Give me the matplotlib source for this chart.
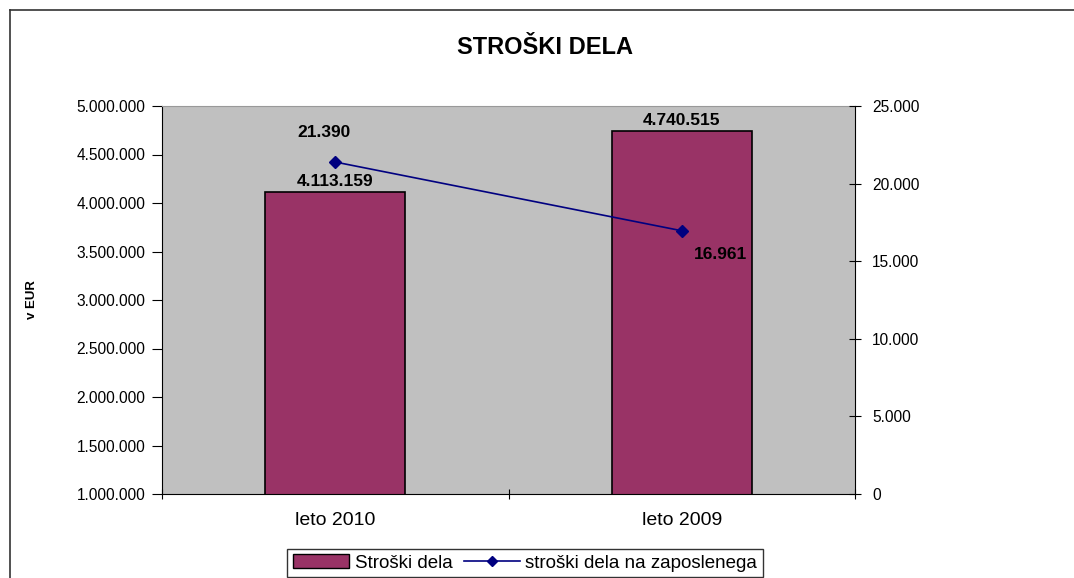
import matplotlib.pyplot as plt
from matplotlib.ticker import FuncFormatter, FixedLocator
from matplotlib.lines import Line2D
from matplotlib.patches import Rectangle

plt.rcParams['font.family'] = ['Liberation Sans', 'DejaVu Sans']

# Data
categories = ["leto 2010", "leto 2009"]
costs = [4113159, 4740515]          # Stroški dela (left axis)
per_employee = [21390, 16961]       # stroški dela na zaposlenega (right axis)

bar_color = "#993366"
line_color = "#000080"


def dots(v, pos=None):
    return f"{int(round(v)):,}".replace(",", ".")


fig = plt.figure(figsize=(10.74, 5.78), dpi=100)
ax = fig.add_axes([162 / 1074, 1 - 494 / 578, (855 - 162) / 1074, (494 - 106) / 578])
ax.set_facecolor("#C0C0C0")

x = [0.5, 1.5]
bars = ax.bar(x, costs, width=0.405, color=bar_color, edgecolor="black", linewidth=1.2, zorder=2)
ax.set_xlim(0, 2)
ax.set_ylim(1000000, 5000000)
ax.yaxis.set_major_locator(FixedLocator(range(1000000, 5000001, 500000)))
ax.yaxis.set_major_formatter(FuncFormatter(dots))
ax.set_xticks([0, 1, 2])
ax.set_xticklabels([])
ax.set_xticks(x, minor=True)
ax.set_xticklabels(categories, minor=True)
ax.tick_params(axis="x", which="minor", length=0, pad=13, labelsize=14)
ax.tick_params(axis="x", which="major", length=7, direction="inout")
ax.tick_params(axis="y", length=7, labelsize=11.2, pad=5)
ax.set_ylabel("v EUR", fontsize=9.5, fontweight="bold", labelpad=28)

ax.spines["top"].set_color("#999999")
ax.spines["right"].set_visible(False)

for b, v in zip(bars, costs):
    ax.text(b.get_x() + b.get_width() / 2, v + 30000, dots(v), ha="center", va="bottom",
            fontsize=12.5, fontweight="bold")

ax2 = ax.twinx()
ax2.plot(x, per_employee, color=line_color, marker="D", markersize=6, linewidth=1.2, zorder=3)
ax2.set_ylim(0, 25000)
ax2.yaxis.set_major_locator(FixedLocator(range(0, 25001, 5000)))
ax2.yaxis.set_major_formatter(FuncFormatter(dots))
ax2.tick_params(axis="y", length=9, direction="inout", labelsize=11.2, pad=8)
ax2.spines["top"].set_visible(False)
ax2.spines["left"].set_visible(False)
ax2.spines["bottom"].set_visible(False)

ax2.annotate(dots(per_employee[0]), (x[0], per_employee[0]), xytext=(-8, 16),
             textcoords="offset points", ha="center", va="bottom", fontsize=12.5, fontweight="bold")
ax2.annotate(dots(per_employee[1]), (x[1], per_employee[1]), xytext=(28, -12),
             textcoords="offset points", ha="center", va="top", fontsize=12.5, fontweight="bold")

fig.text(545 / 1074, 1 - 48 / 578, "STROŠKI DELA", ha="center", va="center",
         fontsize=17, fontweight="bold")

handles = [Rectangle((0, 0), 1, 1, facecolor=bar_color, edgecolor="black"),
           Line2D([], [], color=line_color, marker="D", markersize=5, linewidth=1.2)]
fig.legend(handles, ["Stroški dela", "stroški dela na zaposlenega"], loc="center",
           bbox_to_anchor=(525 / 1074, 1 - 563 / 578), ncol=2, frameon=True, fancybox=False,
           edgecolor="black", fontsize=13.5, handlelength=3.0, columnspacing=0.6,
           handletextpad=0.3, borderpad=0.3, borderaxespad=0)

# outer chart border (left and top visible)
fig.add_artist(Line2D([10 / 1074, 10 / 1074], [0, 1 - 10 / 578], color="#333333", linewidth=1.2,
                      transform=fig.transFigure))
fig.add_artist(Line2D([10 / 1074, 1], [1 - 10 / 578, 1 - 10 / 578], color="#333333", linewidth=1.2,
                      transform=fig.transFigure))

fig.savefig("out.png", dpi=100)
